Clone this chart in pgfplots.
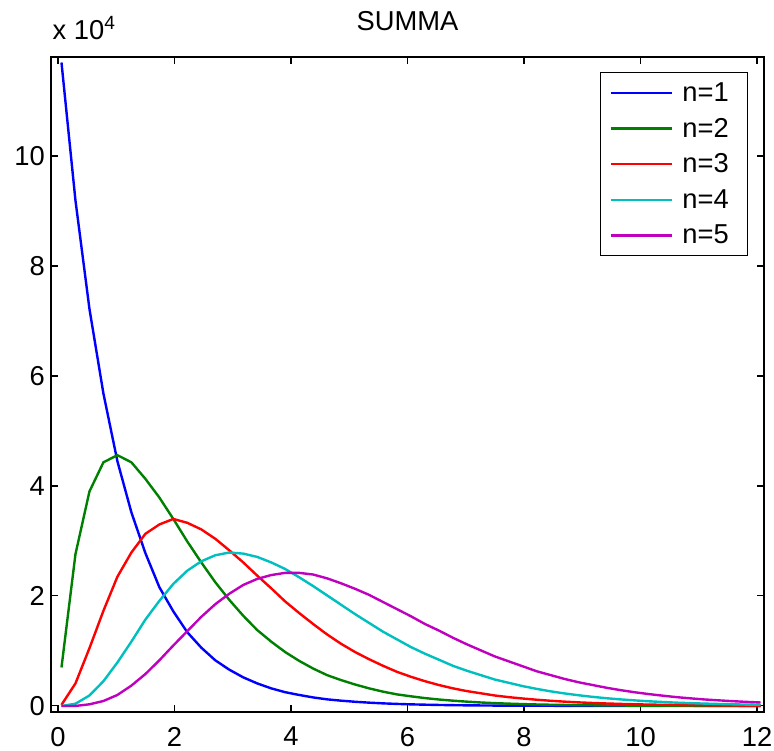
\documentclass[border=0pt]{standalone}
\usepackage{fontspec}
\setmainfont{Liberation Sans}
\usepackage{pgfplots}
\pgfplotsset{compat=1.18}

\definecolor{mblue}{rgb}{0,0,1}
\definecolor{mgreen}{rgb}{0,0.5,0}
\definecolor{mred}{rgb}{1,0,0}
\definecolor{mcyan}{rgb}{0,0.75,0.75}
\definecolor{mmagenta}{rgb}{0.75,0,0.75}

\begin{document}
\begin{tikzpicture}
\begin{axis}[
  name=ax,
  at={(0,0)}, anchor=south west,
  scale only axis,
  width=534.75pt, height=491.25pt,
  xmin=-0.12, xmax=12.12,
  ymin=-0.11, ymax=11.8,
  xtick={0,2,...,12},
  ytick={0,2,...,10},
  tick align=inside,
  major tick length=5pt,
  axis line style={line width=0.8pt},
  every tick/.style={black, line width=0.8pt},
  font=\fontsize{20.5}{24}\selectfont,
  /pgf/number format/assume math mode=true,
  xticklabel style={inner sep=0pt, yshift=-11pt},
  yticklabel style={inner sep=0pt, xshift=-4.5pt},
  legend cell align=left,
  legend style={
    at={(1,1)}, anchor=north east, xshift=-12pt, yshift=-11.25pt,
    draw=black, line width=0.8pt, inner xsep=7pt, inner ysep=2pt,
    font=\fontsize{20.5}{24}\selectfont,
    nodes={inner xsep=7pt, inner ysep=5.5pt},
    row sep=0pt,
  },
  legend image code/.code={
    \path (0pt,0pt) -- (46pt,0pt);
    \draw[#1] (4.5pt,0pt) -- (40.5pt,0pt);},
  every axis plot/.append style={line width=1.8pt},
]
% n=1
\addplot[mblue] coordinates {
  (0.06,11.70) (0.30,9.19) (0.54,7.22) (0.78,5.68) (1.02,4.45) (1.26,3.52)
  (1.50,2.78) (1.74,2.16) (1.98,1.72) (2.22,1.34) (2.46,1.06) (2.70,0.83)
  (2.94,0.66) (3.18,0.52) (3.42,0.41) (3.66,0.32) (3.90,0.25) (4.14,0.20)
  (4.38,0.155) (4.62,0.12) (4.86,0.096) (5.10,0.076) (5.34,0.06) (5.58,0.047)
  (5.82,0.037) (6.06,0.029) (6.30,0.023) (6.54,0.018) (6.78,0.014) (7.02,0.011)
  (7.26,0.009) (7.50,0.007) (7.74,0.005) (7.98,0.004) (8.22,0.003) (8.46,0.003)
  (8.70,0.002) (8.94,0.002) (9.18,0.001) (9.42,0.001) (9.66,0.001) (9.90,0.001)
  (10.14,0) (10.38,0) (10.62,0) (10.86,0) (11.10,0) (11.34,0) (11.58,0)
  (11.82,0) (12.06,0)
};
% n=2
\addplot[mgreen] coordinates {
  (0.06,0.70) (0.30,2.76) (0.54,3.90) (0.78,4.43) (1.02,4.56) (1.26,4.43)
  (1.50,4.13) (1.74,3.79) (1.98,3.40) (2.22,2.99) (2.46,2.61) (2.70,2.25)
  (2.94,1.93) (3.18,1.64) (3.42,1.38) (3.66,1.17) (3.90,0.98) (4.14,0.82)
  (4.38,0.68) (4.62,0.56) (4.86,0.47) (5.10,0.39) (5.34,0.32) (5.58,0.26)
  (5.82,0.21) (6.06,0.175) (6.30,0.143) (6.54,0.117) (6.78,0.096) (7.02,0.078)
  (7.26,0.063) (7.50,0.051) (7.74,0.042) (7.98,0.034) (8.22,0.027) (8.46,0.022)
  (8.70,0.018) (8.94,0.015) (9.18,0.012) (9.42,0.009) (9.66,0.008) (9.90,0.006)
  (10.14,0.005) (10.38,0.004) (10.62,0.003) (10.86,0.003) (11.10,0.002)
  (11.34,0.002) (11.58,0.001) (11.82,0.001) (12.06,0.001)
};
% n=3
\addplot[mred] coordinates {
  (0.06,0.02) (0.30,0.41) (0.54,1.05) (0.78,1.73) (1.02,2.35) (1.26,2.79)
  (1.50,3.13) (1.74,3.30) (1.98,3.40) (2.22,3.33) (2.46,3.21) (2.70,3.04)
  (2.94,2.83) (3.18,2.61) (3.42,2.37) (3.66,2.14) (3.90,1.90) (4.14,1.69)
  (4.38,1.49) (4.62,1.30) (4.86,1.13) (5.10,0.98) (5.34,0.85) (5.58,0.73)
  (5.82,0.62) (6.06,0.53) (6.30,0.45) (6.54,0.38) (6.78,0.32) (7.02,0.27)
  (7.26,0.23) (7.50,0.19) (7.74,0.16) (7.98,0.135) (8.22,0.113) (8.46,0.094)
  (8.70,0.078) (8.94,0.065) (9.18,0.054) (9.42,0.045) (9.66,0.037) (9.90,0.031)
  (10.14,0.025) (10.38,0.021) (10.62,0.017) (10.86,0.014) (11.10,0.012)
  (11.34,0.009) (11.58,0.008) (11.82,0.006) (12.06,0.005)
};
% n=4
\addplot[mcyan] coordinates {
  (0.06,0.00) (0.30,0.04) (0.54,0.19) (0.78,0.45) (1.02,0.79) (1.26,1.17)
  (1.50,1.57) (1.74,1.91) (1.98,2.22) (2.22,2.46) (2.46,2.63) (2.70,2.74)
  (2.94,2.79) (3.18,2.77) (3.42,2.71) (3.66,2.61) (3.90,2.49) (4.14,2.34)
  (4.38,2.18) (4.62,2.01) (4.86,1.84) (5.10,1.67) (5.34,1.51) (5.58,1.35)
  (5.82,1.21) (6.06,1.07) (6.30,0.95) (6.54,0.84) (6.78,0.73) (7.02,0.64)
  (7.26,0.56) (7.50,0.48) (7.74,0.42) (7.98,0.36) (8.22,0.31) (8.46,0.265)
  (8.70,0.227) (8.94,0.194) (9.18,0.165) (9.42,0.14) (9.66,0.119) (9.90,0.101)
  (10.14,0.085) (10.38,0.072) (10.62,0.06) (10.86,0.051) (11.10,0.043)
  (11.34,0.036) (11.58,0.03) (11.82,0.025) (12.06,0.021)
};
% n=5
\addplot[mmagenta] coordinates {
  (0.06,0.00) (0.30,0.00) (0.54,0.03) (0.78,0.09) (1.02,0.20) (1.26,0.37)
  (1.50,0.58) (1.74,0.83) (1.98,1.10) (2.22,1.36) (2.46,1.62) (2.70,1.85)
  (2.94,2.04) (3.18,2.20) (3.42,2.31) (3.66,2.38) (3.90,2.42) (4.14,2.42)
  (4.38,2.39) (4.62,2.32) (4.86,2.23) (5.10,2.13) (5.34,2.02) (5.58,1.89)
  (5.82,1.76) (6.06,1.63) (6.30,1.49) (6.54,1.37) (6.78,1.24) (7.02,1.12)
  (7.26,1.01) (7.50,0.90) (7.74,0.81) (7.98,0.72) (8.22,0.63) (8.46,0.56)
  (8.70,0.49) (8.94,0.43) (9.18,0.38) (9.42,0.33) (9.66,0.287) (9.90,0.249)
  (10.14,0.216) (10.38,0.187) (10.62,0.16) (10.86,0.138) (11.10,0.118)
  (11.34,0.102) (11.58,0.087) (11.82,0.074) (12.06,0.063)
};
\legend{n=1,n=2,n=3,n=4,n=5}
\end{axis}
\node[anchor=base, inner sep=0pt, font=\fontsize{20.5}{24}\selectfont]
  at ([yshift=19.5pt]ax.north) {SUMMA};
\node[anchor=base west, inner sep=0pt, font=\fontsize{20.5}{24}\selectfont]
  at ([xshift=1pt,yshift=12.75pt]ax.north west) {x 10\textsuperscript{4}};
\pgfresetboundingbox
\path (-38.25pt,-28.5pt) rectangle (542.25pt,534pt);
\end{tikzpicture}
\end{document}
